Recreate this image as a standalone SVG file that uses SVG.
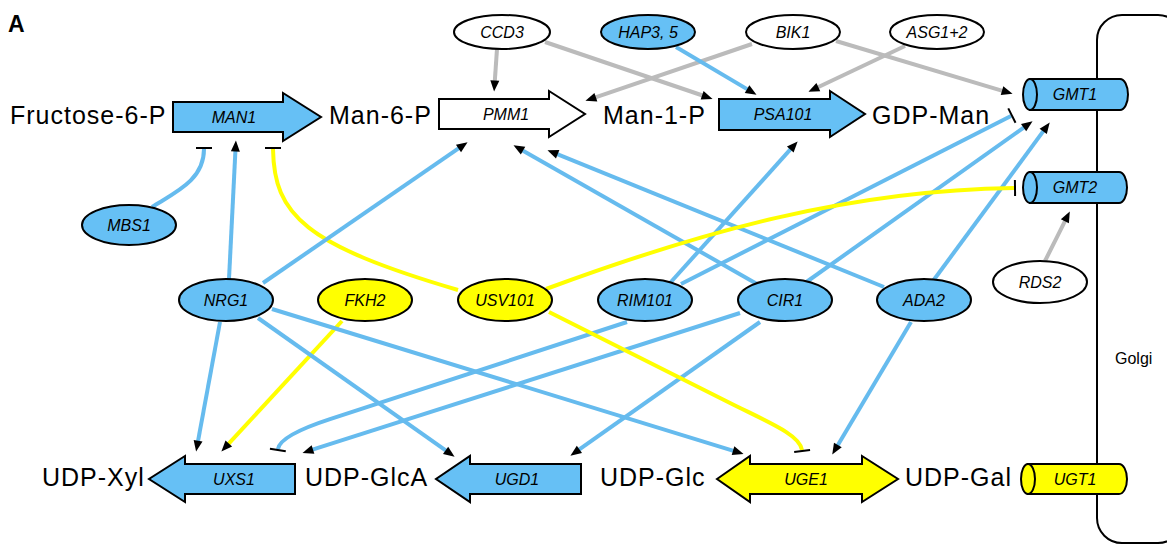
<svg xmlns="http://www.w3.org/2000/svg" width="1167" height="544" viewBox="0 0 1167 544">
<defs>
<style>
.met{font-family:"Liberation Sans",Arial,sans-serif;font-size:25px;letter-spacing:1px;fill:#000}
.lbl{font-family:"Liberation Sans",Arial,sans-serif;font-size:16px;font-style:italic;fill:#000;text-anchor:middle}
.blue{fill:#66C0F5;stroke:#000;stroke-width:2}
.yel{fill:#FFFF00;stroke:#000;stroke-width:2}
.wht{fill:#FFFFFF;stroke:#000;stroke-width:2}
.cb{fill:none;stroke:#66BBEE;stroke-width:4}
.cy{fill:none;stroke:#FFFF00;stroke-width:4}
.cg{fill:none;stroke:#BBBBBB;stroke-width:4}
.act{marker-end:url(#ar)}
.inh{marker-end:url(#tb)}
</style>
<marker id="ar" markerUnits="userSpaceOnUse" markerWidth="12" markerHeight="10" refX="0.5" refY="4.5" orient="auto" viewBox="0 0 12 10" overflow="visible">
<path d="M0,0 L11,4.5 L0,9 z" fill="#000"/>
</marker>
<marker id="tb" markerUnits="userSpaceOnUse" markerWidth="4" markerHeight="18" refX="0" refY="8" orient="auto" viewBox="0 0 4 18" overflow="visible">
<path d="M1,0 L1,16" stroke="#000" stroke-width="2" fill="none"/>
</marker>
</defs>
<rect width="1167" height="544" fill="#fff"/>
<text x="8" y="32" font-family="Liberation Sans, Arial, sans-serif" font-size="23" font-weight="bold">A</text>

<g id="golgi">
<rect x="1097" y="15" width="86" height="528" rx="25" ry="25" fill="none" stroke="#000" stroke-width="2"/>
<text x="1115" y="364" font-family="Liberation Sans, Arial, sans-serif" font-size="16">Golgi</text>
</g>

<g id="connectors">
<path class="cg act" d="M497,49 L494.8,81"/>
<path class="cg act" d="M545,42 L702.6,95.5"/>
<path class="cg act" d="M752,44 L595.4,97.4"/>
<path class="cg act" d="M836,41 L1002.5,90.8"/>
<path class="cg act" d="M905,46 L817.9,87.3"/>
<path class="cg act" d="M1045,261 L1065.1,220.8"/>
<path class="cb act" d="M676,47 L747.5,89.4"/>
<path class="cb inh" d="M152,207 C176,192 204,180 204,149"/>
<path class="cb act" d="M229,279 L235.4,151"/>
<path class="cy inh" d="M458,290 C305,245 274,215 273,149"/>
<path class="cb act" d="M263,283 L458.9,148.2"/>
<path class="cb act" d="M757,284 L522.6,150.4"/>
<path class="cb act" d="M884,287 L557.2,154.1"/>
<path class="cb act" d="M670,283 L790.6,149.2"/>
<path class="cb inh" d="M681,284 L1011,116"/>
<path class="cb act" d="M805,283 L1024,127.4"/>
<path class="cb act" d="M933,281 L1043.5,130.9"/>
<path class="cy inh" d="M546,289 C700,232 850,190 1014,188"/>
<path class="cb act" d="M220,322 L198,441.2"/>
<path class="cy act" d="M342,321 L228.5,443.9"/>
<path class="cb act" d="M258,318 L446,450.7"/>
<path class="cb act" d="M272,309 L733.5,450.8"/>
<path class="cb inh" d="M627,322 L330,419.2 Q280,435.5 278,449"/>
<path class="cb act" d="M740,313 L312.5,449.7"/>
<path class="cb act" d="M760,322 L579,449.7"/>
<path class="cy inh" d="M549,312 L730,403 C770,423 800,435 802,450"/>
<path class="cb act" d="M911,322 L837.6,445.5"/>
</g>

<g id="fructose6p"><text class="met" x="10" y="124">Fructose-6-P</text></g>
<g id="man6p"><text class="met" x="329" y="124">Man-6-P</text></g>
<g id="man1p"><text class="met" x="603" y="124">Man-1-P</text></g>
<g id="gdpman"><text class="met" x="872" y="124">GDP-Man</text></g>
<g id="udpxyl"><text class="met" x="42" y="486">UDP-Xyl</text></g>
<g id="udpglca"><text class="met" x="305" y="486">UDP-GlcA</text></g>
<g id="udpglc"><text class="met" x="600" y="486">UDP-Glc</text></g>
<g id="udpgal"><text class="met" x="905" y="486">UDP-Gal</text></g>

<g id="MAN1">
<polygon class="blue" points="173,102 283,102 283,93 321,117 283,141 283,132 173,132"/>
<text class="lbl" x="234" y="122.5">MAN1</text>
</g>
<g id="PMM1">
<polygon class="wht" points="439,99 549,99 549,91 585,114 549,137 549,129 439,129"/>
<text class="lbl" x="506" y="120">PMM1</text>
</g>
<g id="PSA101">
<polygon class="blue" points="719,99 830,99 830,91 865,114 830,137 830,130 719,130"/>
<text class="lbl" x="783" y="120">PSA101</text>
</g>
<g id="UXS1">
<polygon class="blue" points="295,464 185,464 185,456 149,479 185,502 185,494 295,494"/>
<text class="lbl" x="234" y="485">UXS1</text>
</g>
<g id="UGD1">
<polygon class="blue" points="581,464 470,464 470,456 436,479 470,502 470,494 581,494"/>
<text class="lbl" x="517" y="485">UGD1</text>
</g>
<g id="UGE1">
<polygon class="yel" points="717,479 750,456 750,464 862,464 862,456 898,479 862,502 862,494 750,494 750,502"/>
<text class="lbl" x="806" y="485">UGE1</text>
</g>

<g id="GMT1">
<path class="blue" d="M1030,79 L1120,79 A8,15.5 0 0 1 1120,110 L1030,110 Z"/>
<ellipse class="blue" cx="1030" cy="94.5" rx="7" ry="15.5"/>
<text class="lbl" x="1075" y="100">GMT1</text>
</g>
<g id="GMT2">
<path class="blue" d="M1030,172 L1119,172 A8,15.5 0 0 1 1119,203 L1030,203 Z"/>
<ellipse class="blue" cx="1030" cy="187.5" rx="7" ry="15.5"/>
<text class="lbl" x="1075" y="193">GMT2</text>
</g>
<g id="UGT1">
<path class="yel" d="M1028,464 L1119,464 A8,15 0 0 1 1119,494 L1028,494 Z"/>
<ellipse class="yel" cx="1028" cy="479" rx="7" ry="15"/>
<text class="lbl" x="1075" y="485">UGT1</text>
</g>

<g id="CCD3"><ellipse class="wht" cx="502" cy="32" rx="48" ry="17"/><text class="lbl" x="502" y="37.5">CCD3</text></g>
<g id="HAP35"><ellipse class="blue" cx="648" cy="32" rx="47" ry="17"/><text class="lbl" x="648" y="37.5">HAP3, 5</text></g>
<g id="BIK1"><ellipse class="wht" cx="793" cy="32" rx="47" ry="17"/><text class="lbl" x="793" y="37.5">BIK1</text></g>
<g id="ASG12"><ellipse class="wht" cx="937" cy="32" rx="47" ry="17"/><text class="lbl" x="937" y="37.5">ASG1+2</text></g>
<g id="MBS1"><ellipse class="blue" cx="129" cy="225" rx="47" ry="20"/><text class="lbl" x="129" y="230.5">MBS1</text></g>
<g id="NRG1"><ellipse class="blue" cx="226" cy="300" rx="47" ry="21"/><text class="lbl" x="226" y="305.5">NRG1</text></g>
<g id="FKH2"><ellipse class="yel" cx="365" cy="300" rx="47" ry="21"/><text class="lbl" x="365" y="305.5">FKH2</text></g>
<g id="USV101"><ellipse class="yel" cx="505" cy="300" rx="47" ry="21"/><text class="lbl" x="505" y="305.5">USV101</text></g>
<g id="RIM101"><ellipse class="blue" cx="645" cy="300" rx="47" ry="21"/><text class="lbl" x="645" y="305.5">RIM101</text></g>
<g id="CIR1"><ellipse class="blue" cx="785" cy="300" rx="47" ry="21"/><text class="lbl" x="785" y="305.5">CIR1</text></g>
<g id="ADA2"><ellipse class="blue" cx="924" cy="300" rx="47" ry="21"/><text class="lbl" x="924" y="305.5">ADA2</text></g>
<g id="RDS2"><ellipse class="wht" cx="1040" cy="282" rx="47" ry="21"/><text class="lbl" x="1040" y="287.5">RDS2</text></g>
</svg>
